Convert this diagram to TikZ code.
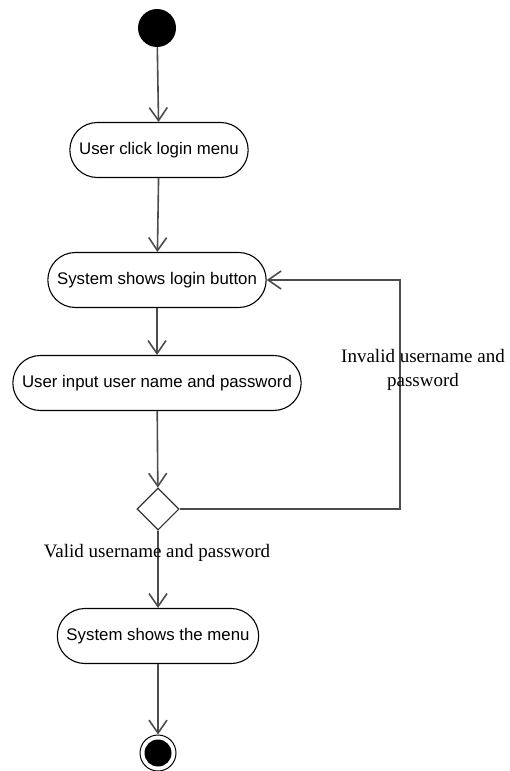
\documentclass[tikz,border=0pt]{standalone}
\usepackage{fontspec}
\setmainfont{Liberation Serif}
\setsansfont{Liberation Sans}
\usetikzlibrary{shapes,shapes.misc,shapes.geometric,arrows.meta}

\begin{document}
\begin{tikzpicture}[x=1pt, y=-1pt, >={Straight Barb[length=13pt,width=18pt]}]
      \tikzstyle{act} = [rounded rectangle, draw=black, line width=1.1pt, minimum height=55pt,
        font=\sffamily\fontsize{16.8}{19}\selectfont]
      \tikzstyle{flow} = [->, line width=1.6pt, draw=black!70]
      \tikzstyle{guard} = [font=\rmfamily\fontsize{19}{24}\selectfont, align=center]
      \useasboundingbox (0,0) rectangle (509,771);
      \node (START) [circle, fill=black, minimum size=38pt, inner sep=0pt] at (157,28) {};
      \node (CLICK) [act, minimum width=185pt] at (159,150) {User click login menu};
      \node (SHOW) [act, minimum width=225pt] at (157,280) {System shows login button};
      \node (INPUT) [act, minimum width=295pt] at (157,383) {User input user name and password};
      \node (DEC) [diamond, draw=black!80, line width=1.1pt, minimum size=42pt, inner sep=0pt] at (158,509) {};
      \node (MENU) [act, minimum width=208pt] at (158,636) {System shows the menu};
      \node (END) [circle, draw=black, line width=1pt, minimum size=36pt, inner sep=0pt] at (158,753) {};
      \node (ENDDOT) [circle, fill=black, minimum size=27pt, inner sep=0pt] at (END) {};
      \coordinate (TURN) at (400,280);
      \draw [flow] (START) -- (CLICK);
      \draw [flow] (CLICK) -- (SHOW);
      \draw [flow] (SHOW) -- (INPUT);
      \draw [flow] (INPUT) -- (DEC);
      \draw [flow] (DEC) -- (MENU);
      \draw [flow] (MENU) -- (END);
      \draw [flow] (DEC.east) -| (TURN) -- (SHOW.east);
      \node (INVALID) [guard] at (423,370) {Invalid username and\\password};
      \node (VALID) [guard] at (157,553) {Valid username and password};
    \end{tikzpicture}
\end{document}
